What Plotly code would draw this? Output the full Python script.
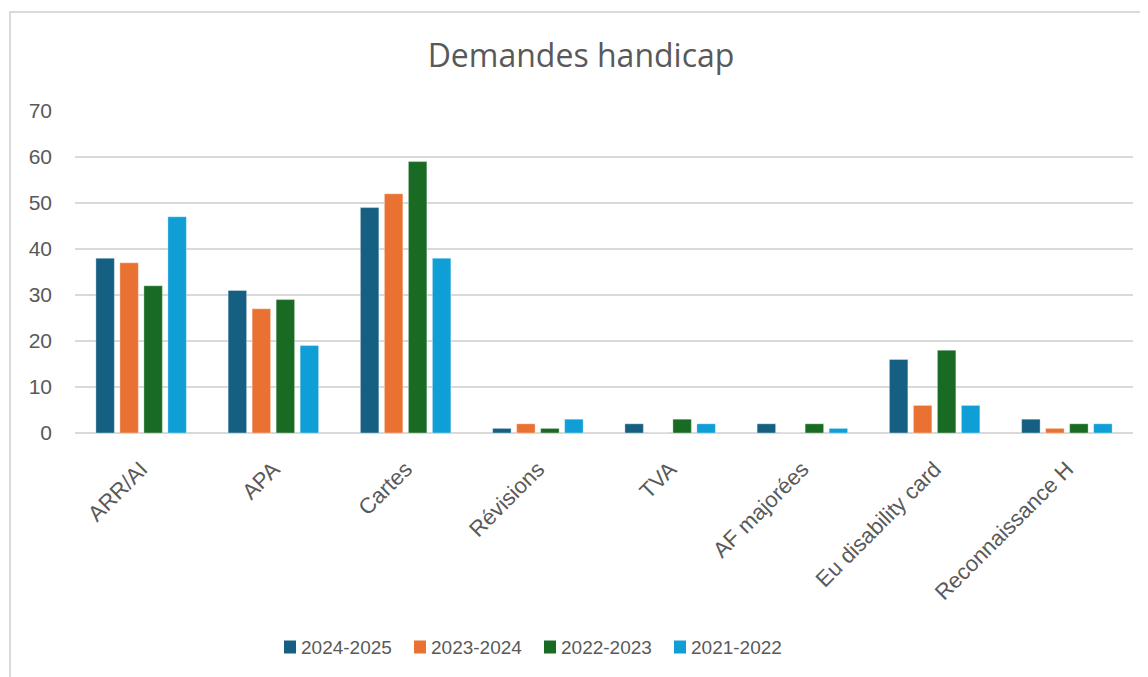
import plotly.graph_objects as go

categories = ["ARR/AI", "APA", "Cartes", "Révisions", "TVA", "AF majorées",
              "Eu disability card", "Reconnaissance H"]
s_2024_2025 = [38, 31, 49, 1, 2, 2, 16, 3]
s_2023_2024 = [37, 27, 52, 2, 0, 0, 6, 1]
s_2022_2023 = [32, 29, 59, 1, 3, 2, 18, 2]
s_2021_2022 = [47, 19, 38, 3, 2, 1, 6, 2]
series_names = ["2024-2025", "2023-2024", "2022-2023", "2021-2022"]
series_colors = ["#156082", "#E97132", "#196B24", "#0F9ED5"]
y_ticks = [0, 10, 20, 30, 40, 50, 60, 70]

FONT = "Liberation Sans"
TFONT = "Open Sans"
TXT = "#595959"

fig = go.Figure()
for name, vals, col in zip(series_names,
                           [s_2024_2025, s_2023_2024, s_2022_2023, s_2021_2022],
                           series_colors):
    fig.add_trace(go.Bar(
        x=categories, y=vals, name=name, showlegend=False,
        marker=dict(color=col, line=dict(color="rgba(255,255,255,0.35)", width=1)),
    ))

OFF = 8  # page body margin
W, H = 1148 - OFF, 677 - OFF
PL, PR, PT, PB = 75, 1133, 111, 433  # plot area in page pixels
L, R, T, B = PL - OFF, W - (PR - OFF), PT - OFF, H - (PB - OFF)
pw, ph = PR - PL, PB - PT

def px(x):
    return (x - PL) / pw

def py(y):
    return (PB - y) / ph

# manual legend (squares right next to text, as in the reference)
leg_sq_x = [284, 414, 544, 674]
leg_y = 647
shapes = [dict(type="rect", xref="paper", yref="paper",
               x0=px(10), x1=px(1170), y0=py(700), y1=py(12),
               line=dict(color="#D9D9D9", width=2), fillcolor="rgba(0,0,0,0)",
               layer="below")]
annotations = []
for name, col, sx in zip(series_names, series_colors, leg_sq_x):
    shapes.append(dict(type="rect", xref="paper", yref="paper",
                       x0=px(sx), x1=px(sx + 12), y0=py(leg_y + 6.5), y1=py(leg_y - 6.5),
                       line=dict(width=0), fillcolor=col))
    annotations.append(dict(text=name, xref="paper", yref="paper",
                            x=px(sx + 15), y=py(leg_y), xanchor="left", yanchor="middle",
                            showarrow=False, font=dict(family=FONT, size=19, color=TXT)))

fig.update_layout(
    width=W, height=H,
    margin=dict(l=L, r=R, t=T, b=B, autoexpand=False),
    paper_bgcolor="white", plot_bgcolor="white",
    barmode="group", bargap=0.274, bargroupgap=0.23,
    showlegend=False,
    font=dict(family=FONT, color=TXT, size=19),
    title=dict(text="Demandes handicap", x=(581 - OFF) / W, xanchor="center",
               y=1 - (56 - OFF) / H, yanchor="middle", xref="container", yref="container",
               font=dict(family=TFONT, size=32, color=TXT)),
    xaxis=dict(tickangle=-45, tickfont=dict(size=22, color=TXT, family=FONT),
               showgrid=False, showline=False, ticks="", ticklabelstandoff=18),
    yaxis=dict(range=[0, 70], tickvals=y_ticks, showgrid=True, gridcolor="#D9D9D9",
               gridwidth=1.5, zeroline=True, zerolinecolor="#D9D9D9", zerolinewidth=1.5,
               tickfont=dict(size=21, color=TXT, family=FONT), ticks="",
               ticklabelstandoff=22),
    shapes=shapes,
    annotations=annotations,
)

fig.write_html("out.html")
